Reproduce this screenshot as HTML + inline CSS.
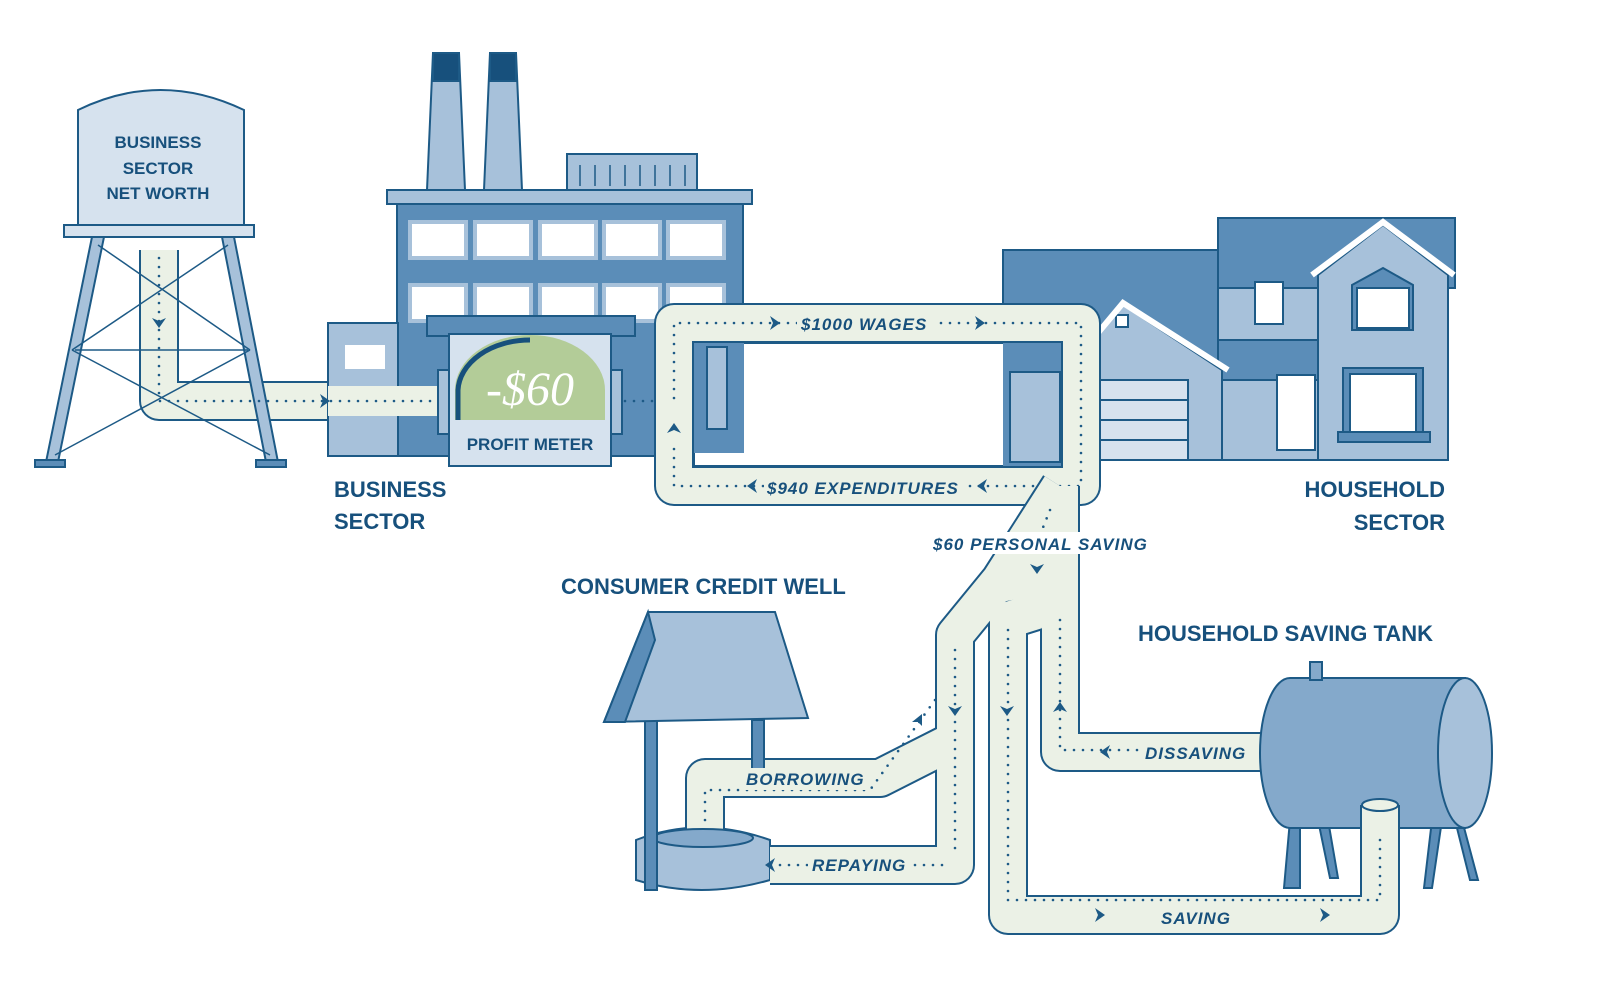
<!DOCTYPE html>
<html><head><meta charset="utf-8"><style>
html,body{margin:0;padding:0;background:#fff}
svg{display:block}
text{font-family:"Liberation Sans",sans-serif}
.lab{font-weight:bold;fill:#17507c;font-size:22px}
.pl{font-weight:bold;font-style:italic;fill:#17507c;font-size:17px;letter-spacing:1px}
.o{fill:none;stroke:#1d5a86;stroke-width:40;stroke-linejoin:round;stroke-linecap:butt}
.i{fill:none;stroke:#ebf1e6;stroke-width:36;stroke-linejoin:round;stroke-linecap:butt}
.d{fill:none;stroke:#1d5a86;stroke-width:2.6;stroke-dasharray:0 9;stroke-linecap:round}
.s{stroke:#1d5a86;stroke-width:2}
</style></head><body>
<svg width="1600" height="987" viewBox="0 0 1600 987" xmlns="http://www.w3.org/2000/svg">
<!-- tower pipe -->
<path class="o" d="M159 250 V401 H450"/><path class="i" d="M159 250 V401 H450"/>
<path class="o" d="M605 401 H680"/><path class="i" d="M605 401 H680"/>
<!-- water tower -->
<path d="M78 225 V110 Q160 70 244 110 V225 Z" fill="#d6e2ee" class="s"/>
<rect x="64" y="225" width="190" height="12" fill="#d6e2ee" class="s"/>
<g class="s" fill="#a7c1da">
<polygon points="92,237 104,237 58,462 46,462"/>
<polygon points="222,237 234,237 278,462 266,462"/>
<rect x="35" y="460" width="30" height="7" fill="#5b8db8"/><rect x="256" y="460" width="30" height="7" fill="#5b8db8"/>
</g>
<g stroke="#1d5a86" stroke-width="1.5">
<line x1="98" y1="245" x2="250" y2="350"/><line x1="228" y1="245" x2="72" y2="350"/>
<line x1="72" y1="350" x2="270" y2="455"/><line x1="250" y1="350" x2="55" y2="455"/>
<line x1="75" y1="350" x2="248" y2="350"/>
</g>
<text class="lab" x="158" y="148" text-anchor="middle" style="font-size:17px">BUSINESS</text>
<text class="lab" x="158" y="174" text-anchor="middle" style="font-size:17px">SECTOR</text>
<text class="lab" x="158" y="199" text-anchor="middle" style="font-size:17px">NET WORTH</text>
<!-- factory -->
<g class="s">
<polygon points="433,53 459,53 465,190 427,190" fill="#a7c1da"/><rect x="433" y="53" width="26" height="28" fill="#17507c"/>
<polygon points="490,53 516,53 522,190 484,190" fill="#a7c1da"/><rect x="490" y="53" width="26" height="28" fill="#17507c"/>
<rect x="567" y="154" width="130" height="36" fill="#a7c1da"/>
<rect x="387" y="190" width="365" height="14" fill="#a7c1da"/>
<rect x="397" y="204" width="346" height="252" fill="#5b8db8"/>
<rect x="328" y="323" width="70" height="133" fill="#a7c1da"/>
</g>
<g stroke="#1d5a86" stroke-width="1.5"><line x1="580" y1="165" x2="580" y2="186"/><line x1="595" y1="165" x2="595" y2="186"/><line x1="610" y1="165" x2="610" y2="186"/><line x1="625" y1="165" x2="625" y2="186"/><line x1="640" y1="165" x2="640" y2="186"/><line x1="655" y1="165" x2="655" y2="186"/><line x1="670" y1="165" x2="670" y2="186"/><line x1="685" y1="165" x2="685" y2="186"/></g>
<g fill="#fff" stroke="#a7c1da" stroke-width="4">
<rect x="410" y="222" width="56" height="36"/><rect x="475" y="222" width="56" height="36"/><rect x="540" y="222" width="56" height="36"/><rect x="604" y="222" width="56" height="36"/><rect x="668" y="222" width="56" height="36"/>
<rect x="410" y="285" width="56" height="36"/><rect x="475" y="285" width="56" height="36"/><rect x="540" y="285" width="56" height="36"/><rect x="604" y="285" width="56" height="36"/><rect x="668" y="285" width="56" height="36"/>
<rect x="343" y="343" width="44" height="28"/>
</g>
<rect x="328" y="386" width="120" height="30" fill="#ebf1e6" stroke="none"/>
<path class="d" d="M159 258 V401 H440"/>
<path d="M320 394 l10 7 -10 7 3 -7z M152 318 l7 10 7 -10 -7 3z" fill="#1d5a86"/>
<!-- profit meter -->
<rect x="427" y="316" width="208" height="20" fill="#5b8db8" class="s"/>
<rect x="438" y="370" width="12" height="64" fill="#a7c1da" class="s"/><rect x="610" y="370" width="12" height="64" fill="#a7c1da" class="s"/>
<rect x="449" y="334" width="162" height="132" fill="#d6e2ee" class="s"/>
<path d="M455 420 V390 A75 55 0 0 1 605 390 V420 Z" fill="#b3cc98"/>
<path d="M458 420 V390 A72 52 0 0 1 530 340" fill="none" stroke="#17507c" stroke-width="5"/>
<text x="530" y="405" text-anchor="middle" fill="#fff" style="font-family:'Liberation Serif',serif;font-style:italic;font-size:48px">-$60</text>
<text x="530" y="450" text-anchor="middle" fill="#17507c" style="font-size:17px;font-weight:bold">PROFIT METER</text>
<path class="d" d="M625 401 H660"/>
<!-- house -->
<g class="s">
<rect x="1003" y="250" width="230" height="210" fill="#5b8db8"/>
<rect x="1218" y="218" width="237" height="70" fill="#5b8db8"/>
<rect x="1218" y="288" width="110" height="172" fill="#a7c1da"/>
<rect x="1218" y="340" width="110" height="40" fill="#5b8db8"/>
<polygon points="1318,275 1383,225 1448,275 1448,460 1318,460" fill="#a7c1da"/>
<polygon points="1090,345 1123,305 1222,370 1222,460 1090,460" fill="#a7c1da"/>
<rect x="1010" y="370" width="50" height="90" fill="#a7c1da"/>
<rect x="1100" y="380" width="88" height="80" fill="#d6e2ee"/>
<rect x="1277" y="375" width="38" height="75" fill="#fff"/>
<rect x="1255" y="282" width="28" height="42" fill="#fff"/>
<polygon points="1352,285 1383,268 1413,285 1413,330 1352,330" fill="#5b8db8"/>
<rect x="1357" y="288" width="52" height="40" fill="#fff"/>
<rect x="1343" y="368" width="80" height="66" fill="#5b8db8"/><rect x="1350" y="374" width="66" height="58" fill="#fff"/>
<rect x="1338" y="432" width="92" height="10" fill="#5b8db8"/>
<rect x="1116" y="315" width="12" height="12" fill="#fff"/>
</g>
<g fill="none" stroke="#fff" stroke-width="6">
<path d="M1312 275 L1383 222 L1454 275"/><path d="M1092 340 L1123 303 L1228 370"/><path d="M1005 372 L1060 342"/>
</g>
<g stroke="#1d5a86" stroke-width="2"><line x1="1100" y1="400" x2="1188" y2="400"/><line x1="1100" y1="420" x2="1188" y2="420"/><line x1="1100" y1="440" x2="1188" y2="440"/></g>
<!-- wages loop -->
<path class="o" d="M674 420 V323 H1081 V486 H674 V420"/><path class="i" d="M674 420 V323 H1081 V486 H674 V420"/>
<rect x="694" y="343" width="367" height="123" fill="#fff" stroke="none"/>
<rect x="694" y="343" width="367" height="123" fill="none" stroke="#1d5a86" stroke-width="2"/>
<rect x="1003" y="343" width="58" height="123" fill="#5b8db8"/>
<rect x="1010" y="372" width="50" height="90" fill="#a7c1da" class="s"/>
<rect x="694" y="343" width="50" height="110" fill="#5b8db8"/>
<rect x="707" y="347" width="20" height="82" fill="#a7c1da" class="s"/>
<path class="d" d="M674 398 V323 H1081 V486 H674 V440"/>
<!-- well base (behind pipes) -->
<g class="s">
<path d="M636 840 Q700 815 770 840 V880 Q700 900 636 880 Z" fill="#a7c1da"/>
</g>
<!-- saving network -->
<g>
<path class="o" d="M1060 486 L1000 580 L955 635 V865 H770"/>
<path class="o" d="M1060 486 V600 Q1060 610 1040 610 L1008 620 V915 H1380 V815"/>
<path class="o" d="M1060 600 V752 H1262"/>
<path class="o" d="M955 640 V740 L880 778 H705 V835"/>
<path class="i" d="M1060 486 L1000 580 L955 635 V865 H770"/>
<path class="i" d="M1060 486 V600 Q1060 610 1040 610 L1008 620 V915 H1380 V815"/>
<path class="i" d="M1060 600 V752 H1262"/>
<path class="i" d="M955 640 V740 L880 778 H705 V838"/>
<path d="M1045 505 L1000 580 L960 620 Q1030 580 1075 615 V505 Z" fill="#ebf1e6"/>
<path class="d" d="M1050 510 L1030 560"/>
<path class="d" d="M955 650 V850"/><path class="d" d="M1008 630 V900 H1380 V820"/>
<path class="d" d="M1060 620 V750 H1250"/><path class="d" d="M705 820 V790 H870 L935 700"/>
<path class="d" d="M780 865 H945"/>
</g>
<ellipse cx="703" cy="838" rx="50" ry="9" fill="#84a9cb" stroke="#1d5a86" stroke-width="2"/>
<g fill="#1d5a86">
<path d="M770 316 l10 7 -10 7 3 -7z M975 316 l10 7 -10 7 3 -7z M757 479 l-10 7 10 7 -3 -7z M987 479 l-10 7 10 7 -3 -7z M667 433 l7 -10 7 10 -7 -3z"/>
<path d="M1030 564 l7 10 7 -10 -7 3z M948 706 l7 10 7 -10 -7 3z M1000 706 l7 10 7 -10 -7 3z M1053 712 l7 -10 7 10 -7 -3z"/>
<path d="M1110 745 l-10 7 10 7 -3 -7z M775 858 l-10 7 10 7 -3 -7z M1095 908 l10 7 -10 7 3 -7z M1320 908 l10 7 -10 7 3 -7z M912 722 l10 -8 0 12 -4 -4z"/>
</g>
<!-- well roof & posts -->
<g class="s">
<rect x="645" y="720" width="12" height="170" fill="#5b8db8"/><rect x="752" y="720" width="12" height="60" fill="#5b8db8"/>
<polygon points="648,612 775,612 808,718 604,722" fill="#a7c1da"/>
<polygon points="648,612 604,722 625,722 655,640" fill="#5b8db8"/>
</g>
<!-- tank -->
<g class="s">
<polygon points="1290,820 1300,820 1300,888 1284,888" fill="#5b8db8"/><polygon points="1318,820 1328,820 1338,878 1330,878" fill="#5b8db8"/>
<polygon points="1432,820 1442,820 1432,888 1424,888" fill="#5b8db8"/><polygon points="1455,820 1462,820 1478,880 1470,880" fill="#5b8db8"/>
<path d="M1290 678 H1465 V828 H1290 A30 75 0 0 1 1290 678 Z" fill="#84a9cb"/>
<ellipse cx="1465" cy="753" rx="27" ry="75" fill="#a7c1da"/>
<rect x="1310" y="662" width="12" height="18" fill="#84a9cb"/>
</g>
<path class="o" d="M1380 830 V805"/><path class="i" d="M1380 835 V805"/>
<ellipse cx="1380" cy="805" rx="18" ry="6" fill="#ebf1e6" class="s"/>
<!-- labels -->
<text class="lab" x="334" y="497">BUSINESS</text><text class="lab" x="334" y="529">SECTOR</text>
<text class="lab" x="1445" y="497" text-anchor="end">HOUSEHOLD</text><text class="lab" x="1445" y="530" text-anchor="end">SECTOR</text>
<text class="lab" x="561" y="594">CONSUMER CREDIT WELL</text>
<text class="lab" x="1138" y="641">HOUSEHOLD SAVING TANK</text>
<rect x="797" y="312" width="142" height="22" fill="#ebf1e6"/><text class="pl" x="801" y="330">$1000 WAGES</text>
<rect x="764" y="476" width="202" height="22" fill="#ebf1e6"/><text class="pl" x="767" y="494">$940 EXPENDITURES</text>
<rect x="930" y="532" width="222" height="22" fill="#fff"/><text class="pl" x="933" y="550">$60 PERSONAL SAVING</text>
<rect x="742" y="768" width="124" height="22" fill="#ebf1e6"/><text class="pl" x="746" y="785">BORROWING</text>
<rect x="808" y="854" width="100" height="22" fill="#ebf1e6"/><text class="pl" x="812" y="871">REPAYING</text>
<rect x="1142" y="742" width="108" height="22" fill="#ebf1e6"/><text class="pl" x="1145" y="759">DISSAVING</text>
<rect x="1158" y="906" width="75" height="20" fill="#ebf1e6"/><text class="pl" x="1161" y="924">SAVING</text>
</svg>
</body></html>
